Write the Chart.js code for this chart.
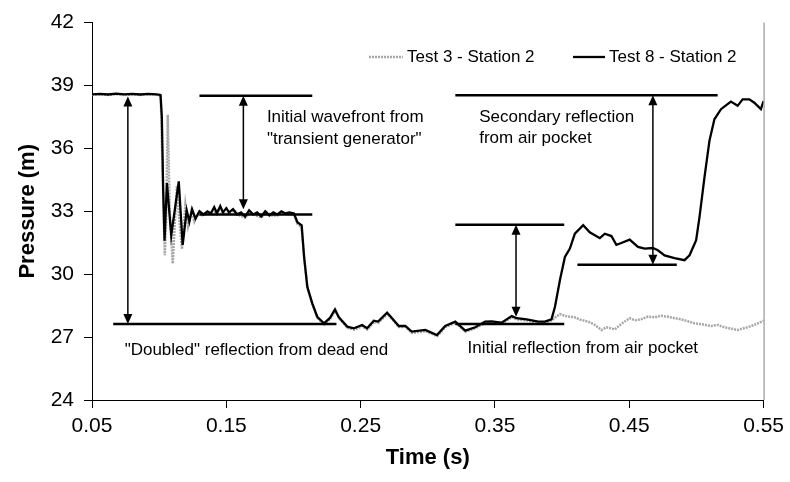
<!DOCTYPE html>
<html>
<head>
<meta charset="utf-8">
<script src="https://cdn.jsdelivr.net/npm/chart.js@4.4.1/dist/chart.umd.min.js"></script>
<style>
  html, body { margin: 0; padding: 0; background: #fff; }
</style>
</head>
<body>
<canvas id="grafico-pressao" width="790" height="482"></canvas>
<script>
// Test 8 - Station 2
const t8Tempo = [0.050, 0.056, 0.062, 0.068, 0.074, 0.080, 0.086, 0.092, 0.098, 0.1010,
  0.1020, 0.1030, 0.1040, 0.1058, 0.1090, 0.1146, 0.1175, 0.1205, 0.1225, 0.1245,
  0.1270, 0.1300, 0.1330, 0.1360, 0.1385, 0.1410, 0.1430, 0.1455, 0.1475, 0.1500,
  0.1520, 0.1550, 0.1580, 0.1610, 0.1640, 0.1670, 0.1700, 0.1730, 0.1760, 0.1790,
  0.1820, 0.1850, 0.1880, 0.1910, 0.1940, 0.1970, 0.2004, 0.2029, 0.2061, 0.2079,
  0.2103, 0.2140, 0.2177, 0.2227, 0.2270, 0.2309, 0.2338, 0.2400, 0.2450, 0.2511,
  0.2548, 0.2598, 0.2630, 0.2697, 0.2734, 0.2784, 0.2833, 0.2880, 0.2982, 0.3068,
  0.3130, 0.3205, 0.3279, 0.3353, 0.3427, 0.3476, 0.3550, 0.3625, 0.3662, 0.3736,
  0.3823, 0.3872, 0.3921, 0.3947, 0.3984, 0.4021, 0.4058, 0.4095, 0.4157, 0.4206,
  0.4281, 0.4318, 0.4367, 0.4404, 0.4441, 0.4503, 0.4565, 0.4615, 0.4676, 0.4713,
  0.4763, 0.4837, 0.4911, 0.4949, 0.4998, 0.5023, 0.5060, 0.5097, 0.5134, 0.5183,
  0.5220, 0.5257, 0.5307, 0.5344, 0.5394, 0.5431, 0.5480, 0.5500];
const t8Pressao = [38.58, 38.60, 38.57, 38.61, 38.58, 38.60, 38.57, 38.60, 38.58, 38.55,
  37.50, 34.00, 31.60, 34.35, 31.85, 34.43, 31.40, 33.05, 32.50, 33.10,
  32.65, 33.00, 32.85, 33.00, 32.90, 33.20, 32.90, 33.25, 32.95, 33.15,
  32.95, 33.10, 32.85, 32.95, 32.75, 33.05, 32.85, 32.95, 32.75, 33.00,
  32.80, 32.95, 32.85, 33.00, 32.90, 32.95, 32.90, 32.48, 32.33, 30.82,
  29.40, 28.61, 27.97, 27.66, 27.90, 28.32, 27.94, 27.50, 27.42, 27.58,
  27.42, 27.78, 27.74, 28.16, 27.90, 27.53, 27.53, 27.26, 27.34, 27.10,
  27.53, 27.74, 27.31, 27.47, 27.74, 27.75, 27.69, 28.00, 27.90, 27.85,
  27.74, 27.74, 27.85, 28.45, 29.72, 30.82, 31.22, 31.93, 32.34, 32.00,
  31.72, 31.93, 31.82, 31.40, 31.49, 31.65, 31.30, 31.22, 31.25, 31.14,
  30.90, 30.77, 30.67, 30.90, 31.62, 32.72, 34.62, 36.36, 37.39, 37.87,
  38.05, 38.23, 38.03, 38.34, 38.34, 38.18, 37.87, 38.26];

// Test 3 - Station 2
const t3Tempo = [0.050, 0.056, 0.062, 0.068, 0.074, 0.080, 0.086, 0.092, 0.098, 0.1012,
  0.1025, 0.1042, 0.1052, 0.1064, 0.1078, 0.1101, 0.1118, 0.1132, 0.1150, 0.1170,
  0.1195, 0.1215, 0.1240, 0.1262, 0.1290, 0.1330, 0.1365, 0.1400, 0.1440, 0.1480,
  0.1520, 0.1560, 0.1600, 0.1640, 0.1680, 0.1720, 0.1760, 0.1800, 0.1840, 0.1880,
  0.1920, 0.1960, 0.2000, 0.2030, 0.2060, 0.2082, 0.2105, 0.2142, 0.2180, 0.2230,
  0.2272, 0.2312, 0.2340, 0.2402, 0.2452, 0.2512, 0.2550, 0.2600, 0.2632, 0.2700,
  0.2736, 0.2786, 0.2835, 0.2882, 0.2984, 0.3070, 0.3132, 0.3207, 0.3281, 0.3355,
  0.3429, 0.3478, 0.3552, 0.3627, 0.3664, 0.3738, 0.3825, 0.3874, 0.3923, 0.3950,
  0.3984, 0.4030, 0.4095, 0.4140, 0.4194, 0.4240, 0.4293, 0.4330, 0.4392, 0.4454,
  0.4503, 0.4545, 0.4589, 0.4640, 0.4689, 0.4740, 0.4788, 0.4840, 0.4886, 0.4985,
  0.5050, 0.5109, 0.5160, 0.5208, 0.5260, 0.5307, 0.5381, 0.5431, 0.5500];
const t3Pressao = [38.55, 38.57, 38.55, 38.58, 38.55, 38.57, 38.55, 38.58, 38.56, 38.52,
  35.00, 30.90, 32.60, 37.60, 33.20, 30.50, 32.60, 34.20, 32.60, 31.20,
  33.30, 32.30, 33.00, 32.50, 32.85, 32.80, 32.95, 32.85, 33.10, 32.90,
  32.90, 33.05, 32.80, 32.70, 32.95, 32.80, 32.70, 32.95, 32.80, 32.80,
  32.95, 32.85, 32.85, 32.40, 32.25, 30.70, 29.30, 28.55, 27.90, 27.60,
  27.85, 28.25, 27.90, 27.45, 27.35, 27.52, 27.36, 27.72, 27.68, 28.10,
  27.84, 27.48, 27.48, 27.20, 27.28, 27.05, 27.48, 27.68, 27.26, 27.42,
  27.68, 27.70, 27.64, 27.95, 27.84, 27.80, 27.68, 27.70, 27.80, 27.95,
  28.10, 28.00, 27.94, 27.82, 27.74, 27.60, 27.34, 27.47, 27.37, 27.69,
  27.90, 27.80, 27.85, 27.98, 27.94, 28.02, 27.97, 27.90, 27.85, 27.66,
  27.60, 27.53, 27.58, 27.47, 27.40, 27.34, 27.47, 27.58, 27.78];

const xTicks = [0.05, 0.15, 0.25, 0.35, 0.45, 0.55];

// horizontal guides: [t start, t end, pressure]
const guias = [
  [0.130, 0.214, 38.51],
  [0.130, 0.214, 32.85],
  [0.0658, 0.232, 27.62],
  [0.3205, 0.4016, 32.36],
  [0.3205, 0.4016, 27.62],
  [0.3205, 0.5158, 38.53],
  [0.4114, 0.4854, 30.45]
];
// double arrows: [t, pressure top, pressure bottom]
const setas = [
  [0.0767, 38.47, 27.62],
  [0.1627, 38.51, 33.10],
  [0.3657, 32.36, 27.97],
  [0.4676, 38.53, 30.45]
];
// notes: [t, pressure of first line, lines]
const notas = [
  [0.1802, 37.46, ['Initial wavefront from', '"transient generator"']],
  [0.3383, 37.50, ['Secondary reflection', 'from air pocket']],
  [0.0743, 26.39, ['"Doubled" reflection from dead end']],
  [0.3296, 26.47, ['Initial reflection from air pocket']]
];

const pontos = (ts, ps) => ts.map((t, i) => ({ x: t, y: ps[i] }));

const fonte = "'Liberation Sans', Arial, sans-serif";
Chart.defaults.font.family = fonte;
Chart.defaults.color = '#000';

function seta(ctx, x, y0, y1) {
  const cab = 10, meia = 4.5;
  ctx.lineWidth = 1.5;
  ctx.beginPath();
  ctx.moveTo(x, y0 + cab - 1);
  ctx.lineTo(x, y1 - cab + 1);
  ctx.stroke();
  ctx.beginPath();
  ctx.moveTo(x, y0);
  ctx.lineTo(x - meia, y0 + cab);
  ctx.lineTo(x + meia, y0 + cab);
  ctx.closePath();
  ctx.fill();
  ctx.beginPath();
  ctx.moveTo(x, y1);
  ctx.lineTo(x - meia, y1 - cab);
  ctx.lineTo(x + meia, y1 - cab);
  ctx.closePath();
  ctx.fill();
}

const anotacoes = {
  id: 'anotacoes',
  afterDatasetsDraw(chart) {
    const { ctx, chartArea, scales: { x, y } } = chart;
    ctx.save();
    // frame on the right side
    ctx.strokeStyle = '#808080';
    ctx.lineWidth = 1;
    ctx.beginPath();
    ctx.moveTo(chartArea.right + 0.5, chartArea.top);
    ctx.lineTo(chartArea.right + 0.5, chartArea.bottom);
    ctx.stroke();

    ctx.strokeStyle = '#000';
    ctx.fillStyle = '#000';
    ctx.lineWidth = 2.5;
    guias.forEach(([t0, t1, p]) => {
      const py = y.getPixelForValue(p);
      ctx.beginPath();
      ctx.moveTo(x.getPixelForValue(t0), py);
      ctx.lineTo(x.getPixelForValue(t1), py);
      ctx.stroke();
    });
    setas.forEach(([t, p0, p1]) => {
      seta(ctx, x.getPixelForValue(t), y.getPixelForValue(p0), y.getPixelForValue(p1));
    });

    ctx.font = '17px ' + fonte;
    ctx.textAlign = 'left';
    ctx.textBaseline = 'middle';
    notas.forEach(([t, p, linhas]) => {
      const px = x.getPixelForValue(t);
      const py = y.getPixelForValue(p);
      linhas.forEach((txt, i) => ctx.fillText(txt, px, py + i * 21.5));
    });

    // legend inside the plot
    const legenda = [[369, 403, 407], [573, 605, 609]];
    chart.data.datasets.forEach((ds, i) => {
      const [a, b, tx] = legenda[i];
      ctx.save();
      ctx.strokeStyle = ds.borderColor;
      ctx.lineWidth = ds.borderWidth;
      ctx.setLineDash(ds.borderDash || []);
      ctx.beginPath();
      ctx.moveTo(a, 57);
      ctx.lineTo(b, 57);
      ctx.stroke();
      ctx.restore();
      ctx.fillText(ds.label, tx, 57);
    });
    ctx.restore();
  }
};

new Chart(document.getElementById('grafico-pressao'), {
  type: 'line',
  data: {
    datasets: [
      {
        label: 'Test 3 - Station 2',
        data: pontos(t3Tempo, t3Pressao),
        borderColor: '#a8a8a8',
        borderWidth: 2.5,
        borderDash: [2, 1],
        pointRadius: 0,
        tension: 0,
        order: 1
      },
      {
        label: 'Test 8 - Station 2',
        data: pontos(t8Tempo, t8Pressao),
        borderColor: '#000',
        borderWidth: 2.3,
        pointRadius: 0,
        tension: 0,
        order: 0
      }
    ]
  },
  options: {
    responsive: false,
    animation: false,
    devicePixelRatio: 1,
    layout: { padding: { left: 11, right: 24, top: 21, bottom: 7 } },
    plugins: {
      legend: { display: false },
      tooltip: { enabled: false }
    },
    scales: {
      x: {
        type: 'linear',
        min: 0.05,
        max: 0.55,
        afterBuildTicks: (s) => { s.ticks = xTicks.map(v => ({ value: v })); },
        afterFit: (s) => { s.height = 75; },
        border: { color: '#000', width: 1 },
        grid: { drawOnChartArea: false, drawTicks: true, tickLength: 8, color: '#000' },
        ticks: {
          padding: 6,
          maxRotation: 0,
          font: { size: 21 },
          callback: (v) => v.toFixed(2)
        },
        title: { display: true, text: 'Time (s)', font: { size: 22, weight: 'bold' }, padding: { top: 0, bottom: 4 } }
      },
      y: {
        min: 24,
        max: 42,
        afterFit: (s) => { s.width = 81; },
        border: { color: '#000', width: 1 },
        grid: { drawOnChartArea: false, drawTicks: true, tickLength: 8, color: '#000' },
        ticks: { stepSize: 3, padding: 10, font: { size: 21 } },
        title: { display: true, text: 'Pressure (m)', font: { size: 22, weight: 'bold' }, padding: { top: 4, bottom: 0 } }
      }
    }
  },
  plugins: [anotacoes]
});
</script>
</body>
</html>
